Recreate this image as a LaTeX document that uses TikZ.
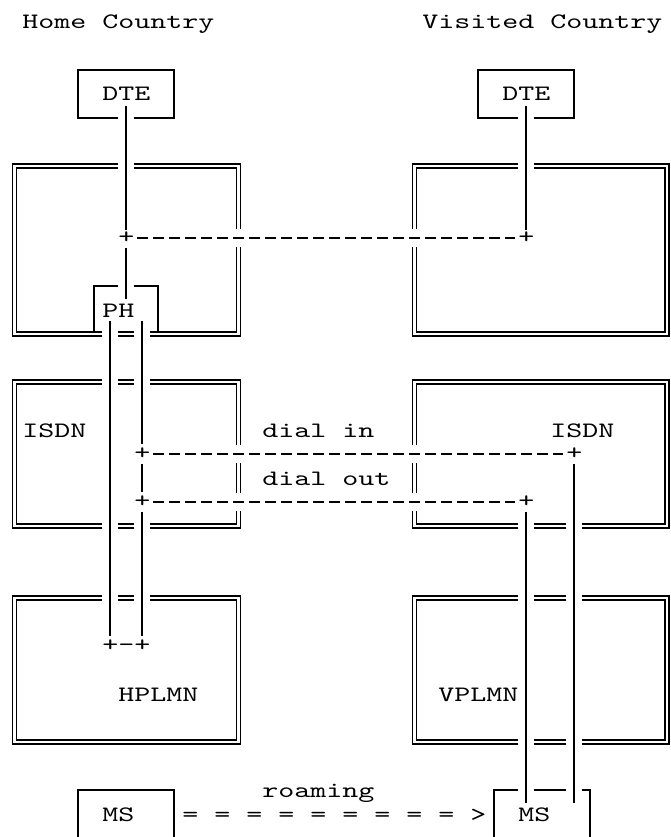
\documentclass[tikz,border=0pt]{standalone}
\usepackage{fontspec}
\newfontfamily\asc[FakeStretch=1.3853]{lmmono10-regular.otf}
\begin{document}
\begin{tikzpicture}[x=16pt,y=-24pt,
  sline/.style={line width=1.8pt},
  dline/.style={double, line width=1.6pt, double distance=2.4pt},
  dashline/.style={line width=1.5pt, dash pattern=on 10.5pt off 5.5pt},
  txt/.style={anchor=base west, inner sep=0pt, outer sep=0pt, font=\asc\fontsize{22}{24}\selectfont, yshift=-7pt},
  plus/.style={anchor=base, inner sep=0pt, outer sep=0pt, font=\asc\fontsize{22}{24}\selectfont, yshift=-5.5pt}]
\useasboundingbox (-14.3pt,22pt) rectangle (656.7pt,-815pt);
\def\R{40.8}
% headings
\node[txt] (home) at (0.5,0) {Home Country};
\node[txt] (visited) at (25.5,0) {Visited Country};
% DTE boxes
\draw[sline] (7.5,4) -- (10,4) -- (10,2) -- (4,2) -- (4,4) -- (6.5,4);
\node[txt] (dteH) at (5.5,3) {DTE};
\draw[sline] (32.5,4) -- (35,4) -- (35,2) -- (29,2) -- (29,4) -- (31.5,4);
\node[txt] (dteV) at (30.5,3) {DTE};
% home top box
\draw[dline] (7.5,6) -- (14,6) -- (14,8.625);
\draw[dline] (14,9.375) -- (14,13) -- (8.5,13);
\draw[dline] (7.5,13) -- (6.5,13);
\draw[dline] (5.5,13) -- (0,13) -- (0,6) -- (6.5,6);
% PH box
\draw[sline] (5,12.917) -- (5,11) -- (6.5,11);
\draw[sline] (7.5,11) -- (9,11) -- (9,12.917);
\node[txt] (ph) at (5.5,12) {PH};
% home DTE line
\draw[sline] (7,3.5) -- (7,8.667);
\node[plus] (j1) at (7,9) {+};
\draw[sline] (7,9.417) -- (7,11.54);
% visited top box
\draw[dline] (32.5,6) -- (\R,6) -- (\R,13) -- (25,13) -- (25,9.375);
\draw[dline] (25,8.625) -- (25,6) -- (31.5,6);
\draw[sline] (32,3.5) -- (32,8.667);
\node[plus] (j2) at (32,9) {+};
\draw[dashline] (7.6875,9) -- (31.3125,9);
% home ISDN box
\draw[dline] (8.5,15) -- (14,15) -- (14,17.625);
\draw[dline] (14,18.375) -- (14,19.625);
\draw[dline] (14,20.375) -- (14,21) -- (8.5,21);
\draw[dline] (7.5,21) -- (6.5,21);
\draw[dline] (5.5,21) -- (0,21) -- (0,15) -- (5.5,15);
\draw[dline] (6.5,15) -- (7.5,15);
\node[txt] (isdnH) at (0.5,17) {ISDN};
% visited ISDN box
\draw[dline] (25,17.625) -- (25,15) -- (\R,15) -- (\R,21) -- (35.5,21);
\draw[dline] (34.5,21) -- (32.5,21);
\draw[dline] (31.5,21) -- (25,21) -- (25,20.375);
\draw[dline] (25,19.625) -- (25,18.375);
\node[txt] (isdnV) at (33.5,17) {ISDN};
\node[txt] (dialin) at (15.5,17) {dial in};
\node[txt] (dialout) at (15.5,19) {dial out};
% home verticals
\draw[sline] (6,12.45) -- (6,25.57);
\draw[sline] (8,12.45) -- (8,17.57);
\node[plus] (j3) at (8,18) {+};
\draw[sline] (8,18.43) -- (8,19.57);
\node[plus] (j4) at (8,20) {+};
\draw[sline] (8,20.43) -- (8,25.57);
\node[plus] (j7) at (7,26) {+-+};
% dashed lines
\draw[dashline] (8.6875,18) -- (34.3125,18);
\node[plus] (j5) at (35,18) {+};
\draw[dashline] (8.6875,20) -- (31.3125,20);
\node[plus] (j6) at (32,20) {+};
% visited verticals
\draw[sline] (35,18.43) -- (35,32.55);
\draw[sline] (32,20.43) -- (32,32.55);
% HPLMN
\draw[dline] (8.5,24) -- (14,24) -- (14,30) -- (0,30) -- (0,24) -- (5.5,24);
\draw[dline] (6.5,24) -- (7.5,24);
\node[txt] (hplmn) at (6.5,28) {HPLMN};
% VPLMN
\draw[dline] (35.5,24) -- (\R,24) -- (\R,30) -- (35.5,30);
\draw[dline] (34.5,24) -- (32.5,24);
\draw[dline] (34.5,30) -- (32.5,30);
\draw[dline] (31.5,30) -- (25,30) -- (25,24) -- (31.5,24);
\node[txt] (vplmn) at (26.5,28) {VPLMN};
% MS boxes
\draw[sline] (4,34.3) -- (4,32) -- (10,32) -- (10,34.3);
\node[txt] (msH) at (5.5,33) {MS};
\draw[sline] (30,34.3) -- (30,32) -- (31.5,32);
\draw[sline] (32.5,32) -- (34.5,32);
\draw[sline] (35.5,32) -- (36,32) -- (36,34.3);
\node[txt] (msV) at (31.5,33) {MS};
\node[txt] (roaming) at (15.5,32) {roaming};
\node[txt] (arrow) at (10.5,33) {= = = = = = = = = >};
\end{tikzpicture}
\end{document}
